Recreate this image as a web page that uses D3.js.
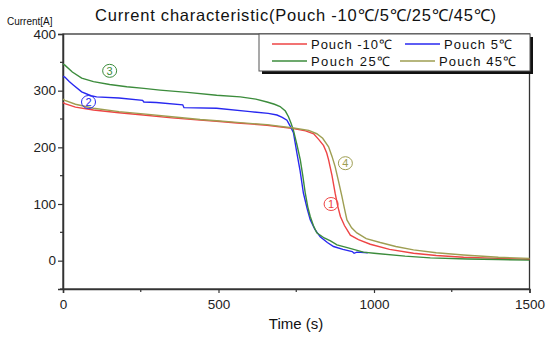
<!DOCTYPE html>
<html>
<head>
<meta charset="utf-8">
<script src="https://cdn.jsdelivr.net/npm/d3@7"></script>
<style>
body{margin:0;background:#fff;}
text{font-family:"Liberation Sans",Arial,sans-serif;}
</style>
</head>
<body>
<svg id="chart" width="550" height="339"></svg>
<script>
const seriesNames = ["Pouch -10℃", "Pouch 5℃", "Pouch 25℃", "Pouch 45℃"];
const seriesColors = ["#ee4444", "#2828f0", "#3c8c3c", "#9e9e52"];
const xTicks = [0, 500, 1000, 1500];
const yTicks = [0, 100, 200, 300, 400];
const titleText = "Current characteristic(Pouch -10℃/5℃/25℃/45℃)";

const red10 = [[0,279],[6,277],[40,271],[98,266],[180,261],[258,257],[350,252],[441,248],[494,246],[560,243],[656,239],[741,233],[780,229],[806,224],[822,214],[838,203],[848,190],[854,178],[865,150],[875,119],[884,95],[892,78],[905,62],[924,45],[950,37],[988,29],[1050,20],[1127,13],[1200,9],[1288,6],[1400,4],[1500,2.5]];
const blue5 = [[0,325],[6,324],[20,316],[33,310],[60,298],[90,291],[108,289],[180,287],[256,283],[260,280],[300,279],[385,275],[389,270],[494,269],[602,263],[660,260],[688,257],[705,253],[720,248],[730,238],[741,226],[752,190],[762,160],[773,119],[785,92],[795,72],[810,55],[827,42],[850,32],[870,25],[900,20],[930,16],[936,13],[945,15],[980,14]];
const green25 = [[0,347],[6,345],[30,333],[60,322],[98,316],[150,311],[205,307],[260,304],[312,301],[400,297],[494,292],[570,289],[620,285],[656,280],[680,276],[698,272],[715,264],[725,254],[733,243],[741,230],[752,205],[763,178],[771,150],[779,119],[787,95],[795,78],[805,62],[816,49],[840,40],[860,35],[881,28],[920,22],[966,15],[1000,13],[1100,8],[1181,5],[1300,3],[1400,2],[1500,1]];
const olive45 = [[0,285],[6,283],[40,276],[98,269],[180,263],[258,259],[350,254],[441,249],[494,247],[560,244],[656,240],[741,234],[790,230],[816,224],[835,216],[854,201],[865,184],[875,166],[886,140],[897,113],[905,92],[913,72],[928,58],[945,49],[975,39],[1020,32],[1070,25],[1127,19],[1200,14],[1288,10],[1400,6],[1500,4]];
const allSeries = [red10, blue5, green25, olive45];

const markerLabels = ["1", "2", "3", "4"];
const markerPos = [[862, 100], [82, 280], [150, 335], [908, 172]];

const svg = d3.select("#chart");
const L = 63, R = 529.5, T = 34, B = 289;
const x = d3.scaleLinear().domain([0, 1500]).range([L, R]);
const y = d3.scaleLinear().domain([-50, 400]).range([B, T]);

// frame
svg.append("rect").attr("x", L).attr("y", T).attr("width", R - L).attr("height", B - T)
  .attr("fill", "none").attr("stroke", "#333").attr("stroke-width", 1.3);

// axes
const xAxis = d3.axisBottom(x).tickValues(xTicks).tickSize(4).tickPadding(6).tickFormat(d3.format("d"));
const gx = svg.append("g").attr("transform", `translate(0,${B})`).call(xAxis);
const yAxis = d3.axisLeft(y).tickValues(yTicks).tickSize(5).tickPadding(2).tickFormat(d3.format("d"));
const gy = svg.append("g").attr("transform", `translate(${L},0)`).call(yAxis);
[gx, gy].forEach(g => {
  g.select(".domain").attr("stroke", "#333").attr("stroke-width", 1.5);
  g.selectAll(".tick line").attr("stroke", "#333").attr("stroke-width", 1.2);
  g.selectAll(".tick text").attr("font-size", 13.5).attr("fill", "#222")
   .style("font-family", '"Liberation Sans", Arial, sans-serif');
});
// minor ticks
const xMinor = [250, 750, 1250];
svg.append("g").selectAll("line").data(xMinor).join("line")
  .attr("x1", d => x(d)).attr("x2", d => x(d)).attr("y1", B).attr("y2", B + 3)
  .attr("stroke", "#333").attr("stroke-width", 1.2);
const yMinor = [-50, 50, 150, 250, 350];
svg.append("g").selectAll("line").data(yMinor).join("line")
  .attr("x1", L - 3).attr("x2", L).attr("y1", d => y(d)).attr("y2", d => y(d))
  .attr("stroke", "#333").attr("stroke-width", 1.2);

// lines
const line = d3.line().x(d => x(d[0])).y(d => y(d[1]));
allSeries.forEach((s, i) => {
  svg.append("path").datum(s).attr("d", line).attr("fill", "none")
    .attr("stroke", seriesColors[i]).attr("stroke-width", 1.4);
});

// circled markers
markerLabels.forEach((m, i) => {
  const cx = x(markerPos[i][0]), cy = y(markerPos[i][1]);
  svg.append("ellipse").attr("cx", cx).attr("cy", cy).attr("rx", 7).attr("ry", 6.5)
    .attr("fill", "none").attr("stroke", seriesColors[i]).attr("stroke-width", 1);
  svg.append("text").attr("x", cx).attr("y", cy + 4).attr("text-anchor", "middle")
    .attr("font-size", 11).attr("fill", seriesColors[i]).text(m);
});

// legend
const lg = svg.append("g");
lg.append("rect").attr("x", 262).attr("y", 37).attr("width", 271).attr("height", 37).attr("fill", "#111");
lg.append("rect").attr("x", 259).attr("y", 34).attr("width", 271).attr("height", 37)
  .attr("fill", "#fff").attr("stroke", "#555").attr("stroke-width", 1);
const legX = [[272, 307, 311], [405, 440, 444], [272, 307, 311], [400, 435, 439]];
const legY = [44, 44, 61, 61];
const legW = [81, 68, 79, 77];
seriesNames.forEach((n, i) => {
  lg.append("line").attr("x1", legX[i][0]).attr("x2", legX[i][1]).attr("y1", legY[i]).attr("y2", legY[i])
    .attr("stroke", seriesColors[i]).attr("stroke-width", 1.3);
  lg.append("text").attr("x", legX[i][2]).attr("y", legY[i] + 4.5).attr("font-size", 13)
    .attr("textLength", legW[i]).attr("lengthAdjust", "spacing")
    .attr("fill", "#111").text(n);
});

// titles
svg.append("text").attr("x", 95).attr("y", 21)
  .attr("font-size", 16.5).attr("textLength", 401).attr("lengthAdjust", "spacing")
  .attr("fill", "#111").text(titleText);
svg.append("text").attr("x", 7).attr("y", 25).attr("font-size", 10).attr("fill", "#111").text("Current[A]");
svg.append("text").attr("x", 296).attr("y", 329).attr("text-anchor", "middle")
  .attr("font-size", 15).attr("fill", "#111").text("Time (s)");
</script>
</body>
</html>
